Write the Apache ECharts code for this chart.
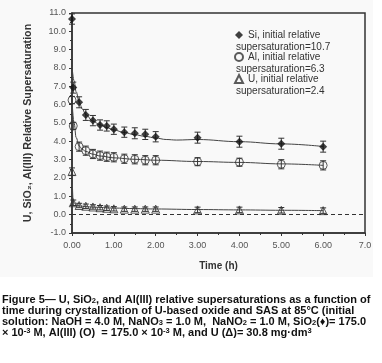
<!DOCTYPE html>
<html>
<head>
<meta charset="utf-8">
<script src="https://cdn.jsdelivr.net/npm/echarts@6/dist/echarts.min.js"></script>
<style>
  html, body { margin: 0; padding: 0; background: #fff; }
  #main { width: 382px; height: 363px; }
</style>
</head>
<body>
<div id="main"></div>
<script>
// --- measured points (time in h, relative supersaturation) --- //
const timeH = [0, 0.03, 0.17, 0.33, 0.5, 0.67, 0.83, 1.0, 1.25, 1.5, 1.75, 2.0, 3.0, 4.0, 5.0, 6.0];
const siValues = [10.67, 6.93, 6.13, 5.44, 5.13, 4.89, 4.84, 4.66, 4.5, 4.44, 4.38, 4.25, 4.2, 3.98, 3.87, 3.71];
const siErrors = [0.28, 0.3, 0.3, 0.3, 0.28, 0.28, 0.28, 0.28, 0.28, 0.3, 0.28, 0.28, 0.3, 0.3, 0.3, 0.3];
const alValues = [6.25, 4.84, 3.71, 3.49, 3.31, 3.22, 3.16, 3.13, 3.05, 3.02, 2.97, 2.97, 2.89, 2.86, 2.75, 2.69];
const alErrors = [0.2, 0.2, 0.25, 0.25, 0.25, 0.25, 0.25, 0.25, 0.25, 0.25, 0.25, 0.25, 0.22, 0.22, 0.25, 0.25];
const uValues = [2.35, 0.65, 0.5, 0.46, 0.42, 0.38, 0.35, 0.32, 0.3, 0.3, 0.3, 0.3, 0.26, 0.26, 0.24, 0.22];
const uErrors = [0.2, 0.15, 0.12, 0.12, 0.12, 0.12, 0.12, 0.12, 0.12, 0.12, 0.12, 0.12, 0.15, 0.15, 0.15, 0.15];

// --- fitted curves --- //
const siFitT = [0, 0.05, 0.1, 0.17, 0.25, 0.33, 0.5, 0.67, 0.83, 1.0, 1.25, 1.5, 1.75, 2.0, 2.25, 2.5, 3.0, 4.0, 5.0, 6.0];
const siFit = [8.1, 7.3, 6.7, 6.15, 5.75, 5.45, 5.1, 4.9, 4.75, 4.62, 4.48, 4.36, 4.27, 4.18, 4.1, 4.07, 4.1, 3.98, 3.86, 3.72];
const alFitT = [0, 0.05, 0.1, 0.17, 0.25, 0.33, 0.5, 0.67, 1.0, 1.5, 2.0, 3.0, 4.0, 5.0, 6.0];
const alFit = [6.25, 5.0, 4.2, 3.75, 3.55, 3.45, 3.3, 3.2, 3.1, 3.02, 2.97, 2.9, 2.85, 2.77, 2.69];
const uFitT = [0, 0.03, 0.1, 0.17, 0.33, 0.5, 1.0, 1.5, 2.0, 3.0, 4.0, 5.0, 6.0];
const uFit = [2.35, 0.7, 0.52, 0.48, 0.44, 0.41, 0.36, 0.33, 0.31, 0.28, 0.26, 0.24, 0.22];

const speciesNames = ['Si', 'Al', 'U'];
const initialSS = ['10.7', '6.3', '2.4'];

const xTickLabels = ['0.00', '1.00', '2.00', '3.00', '4.00', '5.00', '6.00', '7.0'];
const yTickLabels = ['-1.0', '0.0', '1.0', '2.0', '3.0', '4.0', '5.0', '6.0', '7.0', '8.0', '9.0', '10.0', '11.0'];

const INK = '#333';
const FONT = 'Liberation Sans, Arial, sans-serif';

function pairs(xs, ys) {
  return xs.map((x, i) => [x, ys[i]]);
}
function bars(xs, ys, es) {
  return xs.map((x, i) => [x, ys[i] - es[i], ys[i] + es[i]]);
}

// --- petites barres d'erreur en I --- //
function errorBar(params, api) {
  const lo = api.coord([api.value(0), api.value(1)]);
  const hi = api.coord([api.value(0), api.value(2)]);
  const w = 3;
  const st = { stroke: INK, lineWidth: 1 };
  return {
    type: 'group',
    children: [
      { type: 'line', shape: { x1: lo[0], y1: lo[1], x2: hi[0], y2: hi[1] }, style: st },
      { type: 'line', shape: { x1: lo[0] - w, y1: lo[1], x2: lo[0] + w, y2: lo[1] }, style: st },
      { type: 'line', shape: { x1: hi[0] - w, y1: hi[1], x2: hi[0] + w, y2: hi[1] }, style: st }
    ]
  };
}

function fitLine(name, data, extra) {
  return Object.assign({
    name: name + ' fit',
    type: 'line',
    data: data,
    showSymbol: false,
    smooth: 0.4,
    smoothMonotone: 'x',
    lineStyle: { color: '#444', width: 1 },
    silent: true,
    z: 1
  }, extra || {});
}

const caption =
  '{t|Figure 5\u2014 U, SiO}{sub|2}{t|, and Al(III) relative supersaturations as a function of}\n' +
  '{t|time during crystallization of U-based oxide and SAS at 85\u00B0C (initial}\n' +
  '{t|solution: NaOH = 4.0 M, NaNO}{sub|3}{t| = 1.0 M,  NaNO}{sub|2}{t| = 1.0 M, SiO}{sub|2}{t|(\u2666)= 175.0}\n' +
  '{t|\u00D7 10}{sup|-3}{t| M, Al(III) (O)  = 175.0 \u00D7 10}{sup|-3}{t| M, and U (\u0394)= 30.8 mg\u00B7dm}{sup|3}';

// --- second line of each legend entry, under its icon --- //
const legendSecondLines = initialSS.map((v, k) => ({
  type: 'text',
  left: 236,
  top: 42 + k * 22,
  style: { text: 'supersaturation=' + v, font: '10px ' + FONT, fill: INK }
}));

const option = {
  animation: false,
  backgroundColor: '#fff',
  graphic: [
    { type: 'rect', left: 0, top: 0, z: -10, shape: { width: 373, height: 277 }, style: { fill: '#f9f9f9' } }
  ].concat(legendSecondLines),
  title: {
    text: caption,
    left: 2,
    top: 294,
    padding: 0,
    textStyle: {
      rich: {
        t: { fontFamily: FONT, fontWeight: 'bold', fontSize: 11, color: '#111', lineHeight: 11 },
        sub: { fontFamily: FONT, fontWeight: 'bold', fontSize: 7.5, color: '#111', lineHeight: 11, verticalAlign: 'bottom', padding: [3, 0, 0, 0] },
        sup: { fontFamily: FONT, fontWeight: 'bold', fontSize: 7.5, color: '#111', lineHeight: 11, verticalAlign: 'top', padding: [0, 0, 3, 0] }
      }
    }
  },
  legend: {
    orient: 'vertical',
    left: 234,
    top: 29,
    padding: 0,
    itemWidth: 8,
    itemHeight: 8,
    itemGap: 10,
    selectedMode: false,
    data: speciesNames,
    formatter: name => name + ', initial relative',
    textStyle: { fontFamily: FONT, fontSize: 10, color: INK, lineHeight: 12 }
  },
  grid: {
    left: 72, right: 17, top: 13, bottom: 130,
    show: true,
    borderColor: INK,
    borderWidth: 1.5,
    backgroundColor: 'transparent'
  },
  xAxis: {
    type: 'value',
    min: 0, max: 7, interval: 1,
    name: 'Time (h)',
    nameLocation: 'middle',
    nameGap: 28,
    nameTextStyle: { fontFamily: FONT, fontWeight: 'bold', fontSize: 10, color: INK },
    axisLine: { onZero: false, lineStyle: { color: INK, width: 1.5 } },
    axisTick: { show: true, length: 3, lineStyle: { color: INK } },
    minorTick: { show: true, splitNumber: 2, length: 2, lineStyle: { color: INK } },
    splitLine: { show: false },
    axisLabel: {
      fontFamily: FONT, fontSize: 9, color: '#555', margin: 8,
      formatter: (v, i) => xTickLabels[i]
    }
  },
  yAxis: {
    type: 'value',
    min: -1, max: 11, interval: 1,
    name: 'U, SiO\u2082, Al(III) Relative Supersaturation',
    nameLocation: 'middle',
    nameGap: 38,
    nameTextStyle: { fontFamily: FONT, fontWeight: 'bold', fontSize: 10.7, color: INK },
    axisLine: { show: true, onZero: false, lineStyle: { color: INK, width: 1.5 } },
    axisTick: { show: true, length: 3, lineStyle: { color: INK } },
    minorTick: { show: true, splitNumber: 2, length: 2, lineStyle: { color: INK } },
    splitLine: { show: false },
    axisLabel: {
      fontFamily: FONT, fontSize: 9, color: '#555', margin: 6,
      formatter: (v, i) => yTickLabels[i]
    }
  },
  series: [
    fitLine('Si', pairs(siFitT, siFit)),
    fitLine('Al', pairs(alFitT, alFit)),
    fitLine('U', pairs(uFitT, uFit), {
      markLine: {
        silent: true,
        symbol: 'none',
        label: { show: false },
        lineStyle: { color: INK, type: [4, 3], width: 1 },
        data: [{ yAxis: 0 }]
      }
    }),
    { name: 'Si err', type: 'custom', renderItem: errorBar, data: bars(timeH, siValues, siErrors), z: 3, silent: true },
    { name: 'Al err', type: 'custom', renderItem: errorBar, data: bars(timeH, alValues, alErrors), z: 3, silent: true },
    { name: 'U err', type: 'custom', renderItem: errorBar, data: bars(timeH, uValues, uErrors), z: 3, silent: true },
    {
      name: 'Si', type: 'scatter', symbol: 'diamond', symbolSize: 8,
      itemStyle: { color: '#111' },
      data: pairs(timeH, siValues), z: 4
    },
    {
      name: 'Al', type: 'scatter', symbol: 'circle', symbolSize: 8,
      itemStyle: { color: 'rgba(255,255,255,0)', borderColor: INK, borderWidth: 1 },
      data: pairs(timeH, alValues), z: 4
    },
    {
      name: 'U', type: 'scatter', symbol: 'triangle', symbolSize: 8,
      itemStyle: { color: 'rgba(255,255,255,0)', borderColor: INK, borderWidth: 1 },
      data: pairs(timeH, uValues), z: 4
    }
  ]
};

const chart = echarts.init(document.getElementById('main'));
chart.setOption(option);
</script>
</body>
</html>
